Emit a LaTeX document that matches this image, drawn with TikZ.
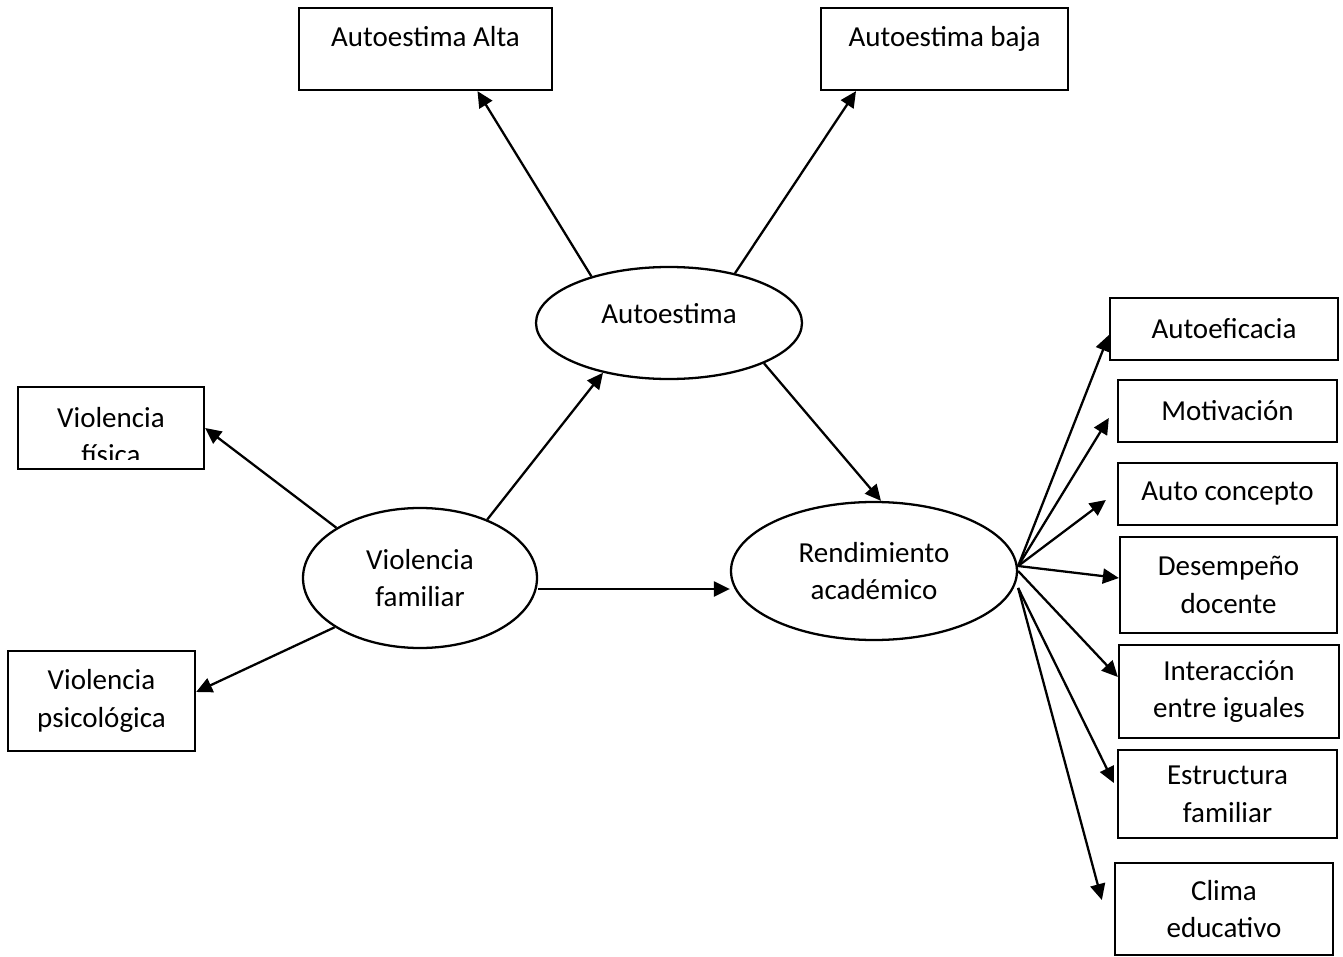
\documentclass[tikz,border=0pt]{standalone}
\usepackage{fontspec}
\setmainfont{Carlito}
\usetikzlibrary{shapes.geometric,arrows.meta}

\begin{document}
\begin{tikzpicture}[line width = 1.3pt, >={Triangle[length=0.32cm,width=0.3cm]},
                    box/.style = {rectangle, draw, align=center, inner sep=2pt, font=\fontsize{16.5}{21.5}\selectfont},
                    oval/.style = {ellipse, draw, align=center, inner sep=0pt, font=\fontsize{16.5}{21.5}\selectfont}]

\useasboundingbox (0,0) rectangle (26.86,-19.14);

% variables
\node [oval, minimum width=4.68cm, minimum height=2.8cm] (VF) at (8.40,-11.56) {Violencia\\familiar};
\node [oval, minimum width=5.32cm, minimum height=2.24cm, text depth=0.4cm] (AE) at (13.38,-6.46) {Autoestima};
\node [oval, minimum width=5.72cm, minimum height=2.76cm] (RA) at (17.48,-11.42) {Rendimiento\\académico};

% autoestima
\node [box, minimum width=5.06cm, minimum height=1.64cm, inner ysep=0pt, text height=0.78cm, text depth=0.86cm] (alta) at (8.51,-0.98) {Autoestima Alta};
\node [box, minimum width=4.94cm, minimum height=1.64cm, inner ysep=0pt, text height=0.78cm, text depth=0.86cm] (baja) at (18.89,-0.98) {Autoestima baja};

% violencia
\node [box, minimum width=3.72cm, minimum height=1.64cm] (fis) at (2.22,-8.56) {};
\begin{scope}
  \clip ([yshift=0.22cm]fis.south west) rectangle (fis.north east);
  \node [align=center, font=\fontsize{16.5}{21.5}\selectfont] (fistext) at ([yshift=-0.16cm]fis.center) {Violencia\\física};
\end{scope}
\node [box, minimum width=3.74cm, minimum height=2.0cm] (psi) at (2.03,-14.02) {Violencia\\psicológica};

% rendimiento
\node [box, minimum width=4.56cm, minimum height=1.24cm] (ef) at (24.48,-6.58) {Autoeficacia};
\node [box, minimum width=4.38cm, minimum height=1.24cm] (mot) at (24.55,-8.22) {Motivación};
\node [box, minimum width=4.38cm, minimum height=1.24cm] (con) at (24.55,-9.88) {Auto concepto};
\node [box, minimum width=4.34cm, minimum height=1.92cm] (des) at (24.57,-11.70) {Desempeño\\docente};
\node [box, minimum width=4.40cm, minimum height=1.86cm] (int) at (24.58,-13.83) {Interacción\\entre iguales};
\node [box, minimum width=4.38cm, minimum height=1.76cm] (est) at (24.55,-15.88) {Estructura\\familiar};
\node [box, minimum width=4.36cm, minimum height=1.84cm] (cli) at (24.48,-18.18) {Clima\\educativo};

\draw[->] (VF.149) -- (fis.east);
\draw[->] (VF.210) -- ([yshift=0.18cm]psi.east);
\draw[->] (VF.41) -- (AE.217);
\draw[->] (AE.149) -- ([xshift=1.04cm]alta.south);
\draw[->] (AE.37) -- ([xshift=-1.77cm]baja.south);
\draw[->] (AE.337) -- ([xshift=0.14cm]RA.north);

\coordinate (vfo) at ([yshift=-0.22cm]VF.east);
\draw[->] (vfo) -- (vfo -| RA.west);

\coordinate (hub) at ([yshift=0.1cm]RA.east);
\coordinate (hubl) at ([yshift=-0.34cm]RA.east);
\draw[->] (hub) -- ([yshift=-0.12cm]ef.west);
\draw[->] (hub) -- ([shift={(-0.16,-0.14)}]mot.west);
\draw[->] (hub) -- ([shift={(-0.22,-0.12)}]con.west);
\draw[->] (hub) -- ([yshift=0.14cm]des.west);
\draw[->] (RA.east) -- ([yshift=0.29cm]int.west);
\draw[->] (hubl) -- ([shift={(-0.06,0.22)}]est.west);
\draw[->] (hubl) -- ([shift={(-0.24,0.18)}]cli.west);

\end{tikzpicture}
\end{document}
